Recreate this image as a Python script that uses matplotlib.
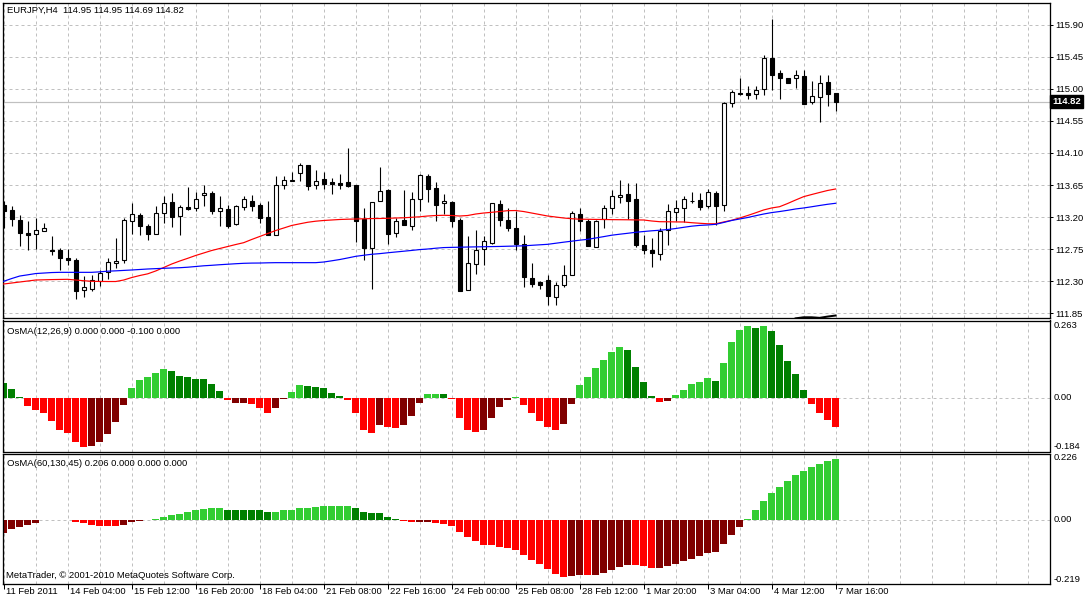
import matplotlib
matplotlib.use("Agg")
import matplotlib.pyplot as plt
import numpy as np

# ---------------- data ----------------
opens = [113.37,113.30,113.16,112.98,112.96,113.01,112.74,112.74,112.62,112.60,
         112.18,112.19,112.30,112.42,112.55,112.59,113.15,113.23,113.07,112.96,
         113.25,113.41,113.22,113.34,113.32,113.51,113.54,113.29,113.31,113.10,
         113.34,113.43,113.37,113.20,112.94,113.65,113.71,113.82,113.93,113.65,
         113.73,113.69,113.68,113.69,113.65,113.17,112.76,113.42,113.58,112.97,
         113.16,113.08,113.45,113.78,113.61,113.39,113.41,113.16,112.17,112.54,
         112.75,112.84,113.38,113.16,113.04,112.82,112.34,112.28,112.32,112.07,
         112.25,112.39,113.24,113.15,112.78,113.17,113.32,113.48,113.52,113.45,
         112.81,112.74,112.68,113.02,113.27,113.32,113.43,113.44,113.35,113.54,
         113.37,114.80,114.94,114.94,114.93,115.00,115.44,115.23,115.15,115.16,
         115.18,114.81,114.89,115.10,114.95]
highs = [113.43,113.35,113.23,113.14,113.19,113.11,112.93,112.77,112.75,112.62,
         112.37,112.38,112.46,112.62,112.90,113.18,113.39,113.26,113.10,113.36,
         113.50,113.54,113.37,113.62,113.55,113.65,113.57,113.50,113.37,113.37,
         113.50,113.51,113.40,113.42,113.78,113.78,113.83,113.96,113.93,113.86,
         113.83,113.75,113.80,114.17,113.65,113.32,113.41,113.91,113.60,113.18,
         113.58,113.55,113.81,113.80,113.69,113.52,113.42,113.18,112.93,113.02,
         112.93,113.39,113.44,113.32,113.29,112.94,112.55,112.30,112.38,112.29,
         112.52,113.29,113.32,113.17,113.16,113.37,113.58,113.72,113.68,113.68,
         112.95,112.91,113.04,113.38,113.44,113.50,113.55,113.54,113.60,113.56,
         114.82,114.98,115.15,115.04,115.04,115.48,115.98,115.26,115.16,115.27,
         115.26,115.11,115.19,115.19,114.95]
lows = [113.05,113.07,112.79,112.74,112.75,113.01,112.67,112.45,112.53,112.05,
        112.07,112.16,112.23,112.33,112.48,112.56,112.96,112.95,112.87,112.96,
        113.12,113.06,112.94,113.30,113.29,113.36,113.24,113.08,113.04,113.09,
        113.30,113.29,113.11,112.95,112.94,113.60,113.71,113.71,113.58,113.60,
        113.60,113.53,113.60,113.62,112.85,112.59,112.19,113.42,112.82,112.92,
        113.09,113.02,113.29,113.41,113.15,113.24,113.06,112.16,112.17,112.40,
        112.52,112.82,113.07,113.01,112.73,112.22,112.22,112.19,111.96,111.96,
        112.21,112.39,113.01,112.79,112.78,113.04,113.24,113.39,113.17,112.78,
        112.68,112.50,112.59,112.80,113.14,113.13,113.40,113.30,113.32,113.09,
        113.29,114.74,114.92,114.86,114.86,114.92,114.99,114.86,115.09,115.01,
        114.79,114.79,114.53,114.76,114.69]
closes = [113.28,113.17,112.97,112.95,113.02,113.04,112.72,112.63,112.59,112.16,
          112.22,112.31,112.41,112.57,112.58,113.16,113.24,113.08,112.96,113.25,
          113.39,113.20,113.34,113.31,113.46,113.54,113.29,113.32,113.08,113.35,
          113.46,113.36,113.18,112.95,113.65,113.72,113.72,113.93,113.64,113.71,
          113.67,113.67,113.65,113.63,113.15,112.76,113.41,113.57,112.96,113.14,
          113.09,113.46,113.79,113.60,113.37,113.42,113.15,112.16,112.55,112.74,
          112.86,113.39,113.16,113.05,112.82,112.35,112.26,112.25,112.09,112.24,
          112.38,113.25,113.15,112.79,113.14,113.32,113.50,113.51,113.43,112.80,
          112.74,112.69,113.01,113.28,113.32,113.46,113.42,113.34,113.55,113.36,
          114.80,114.96,114.93,114.92,114.99,115.43,115.20,115.15,115.09,115.19,
          114.79,114.90,115.08,114.93,114.82]

ma_red = [112.258,112.272,112.286,112.300,112.314,112.317,112.320,112.322,112.324,112.314,
          112.304,112.296,112.294,112.293,112.293,112.314,112.349,112.377,112.401,112.441,
          112.490,112.539,112.581,112.619,112.659,112.694,112.729,112.757,112.785,112.813,
          112.839,112.884,112.926,112.968,113.010,113.045,113.081,113.104,113.126,113.141,
          113.151,113.158,113.165,113.169,113.172,113.175,113.178,113.179,113.182,113.186,
          113.189,113.196,113.203,113.214,113.221,113.224,113.221,113.214,113.221,113.242,
          113.256,113.266,113.277,113.289,113.291,113.277,113.256,113.235,113.214,113.200,
          113.186,113.176,113.169,113.168,113.166,113.165,113.163,113.162,113.161,113.159,
          113.158,113.144,113.134,113.133,113.131,113.130,113.120,113.112,113.105,113.105,
          113.130,113.154,113.186,113.221,113.259,113.299,113.327,113.345,113.390,113.439,
          113.486,113.516,113.545,113.573,113.594]
ma_blue = [112.296,112.335,112.370,112.387,112.405,112.412,112.419,112.422,112.422,112.422,
           112.422,112.422,112.429,112.438,112.443,112.449,112.455,112.462,112.469,112.474,
           112.479,112.483,112.487,112.494,112.504,112.514,112.521,112.529,112.536,112.543,
           112.549,112.552,112.553,112.556,112.558,112.558,112.558,112.558,112.558,112.558,
           112.567,112.584,112.602,112.624,112.647,112.662,112.676,112.685,112.697,112.708,
           112.719,112.730,112.742,112.750,112.761,112.770,112.773,112.775,112.778,112.780,
           112.782,112.784,112.786,112.789,112.792,112.795,112.802,112.809,112.816,112.831,
           112.846,112.860,112.874,112.886,112.905,112.924,112.944,112.958,112.971,112.985,
           112.996,113.006,113.014,113.024,113.038,113.055,113.071,113.082,113.088,113.097,
           113.123,113.151,113.172,113.193,113.218,113.242,113.262,113.277,113.294,113.313,
           113.327,113.344,113.362,113.379,113.393]
# a third (black) average, only visible where it touches the bottom of the window
ma_black_start = 99
ma_black = [111.775, 111.790, 111.790, 111.782, 111.800, 111.815]

osma1 = [0.050,0.029,0.002,-0.030,-0.043,-0.054,-0.081,-0.109,-0.122,-0.151,
         -0.167,-0.164,-0.150,-0.124,-0.084,-0.025,0.033,0.060,0.070,0.084,
         0.096,0.089,0.074,0.070,0.064,0.064,0.046,0.023,-0.009,-0.018,
         -0.018,-0.023,-0.037,-0.054,-0.037,-0.006,0.018,0.043,0.039,0.036,
         0.032,0.015,0.005,-0.008,-0.053,-0.109,-0.122,-0.092,-0.102,-0.105,
         -0.092,-0.064,-0.018,0.012,0.012,0.012,-0.005,-0.070,-0.109,-0.119,
         -0.112,-0.070,-0.032,-0.008,0.001,-0.025,-0.053,-0.081,-0.102,-0.109,
         -0.091,-0.022,0.043,0.070,0.102,0.129,0.157,0.171,0.161,0.105,
         0.053,0.005,-0.015,-0.012,0.008,0.025,0.046,0.053,0.067,0.057,
         0.119,0.188,0.230,0.244,0.237,0.244,0.226,0.181,0.126,0.081,
         0.025,-0.022,-0.053,-0.077,-0.102]
osma1_colors = ("GGGRRRRRRR" "RMMMMMLLLL" "LGGGGGGGRM" "MRRRMMLLGG" "GGGRRRRMRR"
                "MMMLLGRRRR" "MMMMLRRRRR" "MMLLLLLLGG" "GGRMLLLLLG" "LLLLGLGGGG" "GRRRR")

osma2 = [-0.047,-0.033,-0.026,-0.019,-0.013,-0.003,-0.002,-0.002,-0.003,-0.007,
         -0.013,-0.018,-0.023,-0.023,-0.023,-0.018,-0.008,-0.006,-0.002,0.002,
         0.010,0.014,0.018,0.025,0.032,0.035,0.038,0.038,0.034,0.034,
         0.034,0.034,0.031,0.025,0.025,0.032,0.034,0.041,0.041,0.044,
         0.048,0.048,0.048,0.048,0.041,0.027,0.021,0.021,0.010,0.003,
         -0.006,-0.009,-0.009,-0.009,-0.013,-0.016,-0.023,-0.043,-0.060,-0.074,
         -0.088,-0.088,-0.095,-0.098,-0.105,-0.122,-0.139,-0.153,-0.170,-0.187,
         -0.197,-0.194,-0.191,-0.191,-0.191,-0.184,-0.173,-0.163,-0.156,-0.156,
         -0.160,-0.167,-0.167,-0.160,-0.153,-0.143,-0.136,-0.126,-0.115,-0.112,
         -0.084,-0.054,-0.026,0.003,0.032,0.063,0.090,0.111,0.131,0.152,
         0.165,0.179,0.189,0.200,0.206]
osma2_colors = ("MMMMMMMRRR" "RRRRRMMMML" "LLLLLLLLGG" "GGGGLLLLLL" "LLLLGGGGGG"
                "RRMMRRRRRR" "RRRRRRRRRR" "RMMRMMMMMR" "RRMMMMMMMM" "MMMLLLLLLL" "LLLLL")

date_labels = ["11 Feb 2011", "14 Feb 04:00", "15 Feb 12:00", "16 Feb 20:00",
               "18 Feb 04:00", "21 Feb 08:00", "22 Feb 16:00", "24 Feb 00:00",
               "25 Feb 08:00", "28 Feb 12:00", "1 Mar 20:00", "3 Mar 04:00",
               "4 Mar 12:00", "7 Mar 16:00"]
date_label_step = 8  # bars between labels

price_ticks = [111.85, 112.30, 112.75, 113.20, 113.65, 114.10, 114.55, 115.00, 115.45, 115.90]
price_range = (111.78, 116.216)
last_price = 114.82
title_main = "EURJPY,H4  114.95 114.95 114.69 114.82"
osma1_title = "OsMA(12,26,9) 0.000 0.000 -0.100 0.000"
osma1_range = (-0.184, 0.263)
osma2_title = "OsMA(60,130,45) 0.206 0.000 0.000 0.000"
osma2_range = (-0.219, 0.226)
copyright_text = "MetaTrader, \u00a9 2001-2010 MetaQuotes Software Corp."

# ---------------- style ----------------
COLS = {"L": "#32CD32", "G": "#008000", "R": "#FF0000", "M": "#800000"}
GRID = "#C0C0C0"
PX = 0.72  # one pixel in points at dpi 100
FONT = "Liberation Sans"
FS = 6.8

W, H = 1087, 600
fig = plt.figure(figsize=(W / 100, H / 100), dpi=100)
fig.patch.set_facecolor("white")


def rect(x0, y0, x1, y1):
    return [x0 / W, 1 - y1 / H, (x1 - x0) / W, (y1 - y0) / H]


ax0 = fig.add_axes(rect(2.5, 2.5, 1050, 318))
ax1 = fig.add_axes(rect(2.5, 320.5, 1050, 451.5))
ax2 = fig.add_axes(rect(2.5, 453.5, 1050, 583.5))

n = len(closes)
xmin, xmax = -0.15, 130.8
grid_x = np.arange(0, xmax, 4)

for ax in (ax0, ax1, ax2):
    ax.set_xlim(xmin, xmax)
    for s in ax.spines.values():
        s.set_linewidth(PX * 1.3)
        s.set_color("black")
    ax.tick_params(axis="x", bottom=False, labelbottom=False)
    ax.tick_params(axis="y", left=False, labelleft=False)
    for gx in grid_x:
        ax.axvline(gx, color=GRID, lw=PX, ls=(0, (3, 3)), zorder=0)

# ---- main price window ----
ax0.set_ylim(*price_range)
for p in price_ticks:
    ax0.axhline(p, color=GRID, lw=PX, ls=(0, (3, 3)), zorder=0)
ax0.axhline(last_price, color="#C0C0C0", lw=PX * 1.2, zorder=0.5)

x = np.arange(n)
o = np.array(opens); h = np.array(highs); l = np.array(lows); c = np.array(closes)
ax0.vlines(x, l, h, color="black", lw=PX * 1.1, zorder=2)
body_bottom = np.minimum(o, c)
body_height = np.maximum(np.abs(c - o), 0.004)
fills = ["white" if cc > oo else "black" for oo, cc in zip(o, c)]
ax0.bar(x, body_height, bottom=body_bottom, width=0.5, color=fills,
        edgecolor="black", linewidth=PX * 1.1, zorder=3)

ax0.plot(np.arange(len(ma_red)), ma_red, color="#FF0000", lw=PX * 1.2, zorder=4)
ax0.plot(np.arange(len(ma_blue)), ma_blue, color="#0000FF", lw=PX * 1.2, zorder=4)
ax0.plot(np.arange(ma_black_start, ma_black_start + len(ma_black)), ma_black,
         color="black", lw=PX * 2, zorder=4)

ax0.yaxis.tick_right()
ax0.set_yticks(price_ticks)
ax0.set_yticklabels([f"{p:.2f}" for p in price_ticks], fontsize=FS, family=FONT)
ax0.tick_params(axis="y", right=True, labelright=True, length=3 * PX,
                width=PX, pad=2, colors="black")

ax0.text(1.0 + 2 / 1048, last_price, f"{last_price:.2f}", transform=ax0.get_yaxis_transform(),
         ha="left", va="center", fontsize=FS, family=FONT, color="white", fontweight="bold",
         bbox=dict(boxstyle="square,pad=0.2", fc="black", ec="black"), zorder=10, clip_on=False)

fig.text(7 / W, 1 - 10 / H, title_main, fontsize=FS, family=FONT, va="center", ha="left")

# ---- OsMA windows ----
for ax, vals, cols, rng, title, ty in ((ax1, osma1, osma1_colors, osma1_range, osma1_title, 331),
                                        (ax2, osma2, osma2_colors, osma2_range, osma2_title, 463)):
    ax.set_ylim(*rng)
    ax.axhline(0, color=GRID, lw=PX, ls=(0, (3, 3)), zorder=0)
    xi = np.arange(len(vals))
    ax.bar(xi, vals, width=0.82, color=[COLS[k] for k in cols], linewidth=0, zorder=2)
    fig.text(7 / W, 1 - ty / H, title, fontsize=FS, family=FONT, va="center", ha="left")
    tr = ax.get_yaxis_transform()
    xo = 1.0 + 4 / 1048
    ax.text(xo, rng[1], f"{rng[1]:.3f}", transform=tr, ha="left", va="top",
            fontsize=FS, family=FONT, clip_on=False)
    ax.text(xo, 0, "0.00", transform=tr, ha="left", va="center",
            fontsize=FS, family=FONT, clip_on=False)
    ax.text(xo, rng[0], f"{rng[0]:.3f}", transform=tr, ha="left", va="bottom",
            fontsize=FS, family=FONT, clip_on=False)

fig.text(6 / W, 1 - 575 / H, copyright_text, fontsize=FS, family=FONT, va="center", ha="left")

# ---- time axis ----
label_pos = [i * date_label_step for i in range(len(date_labels))]
ax2.set_xticks(label_pos)
ax2.tick_params(axis="x", bottom=True, labelbottom=False, length=5 * PX, width=PX,
                direction="out")
for bx, lab in zip(label_pos, date_labels):
    ax2.annotate(lab, xy=(bx, 0), xycoords=("data", "axes fraction"),
                 xytext=(2, -3), textcoords="offset pixels", ha="left", va="top",
                 fontsize=FS, family=FONT, annotation_clip=False)

fig.savefig("out.png", dpi=100, facecolor="white")
